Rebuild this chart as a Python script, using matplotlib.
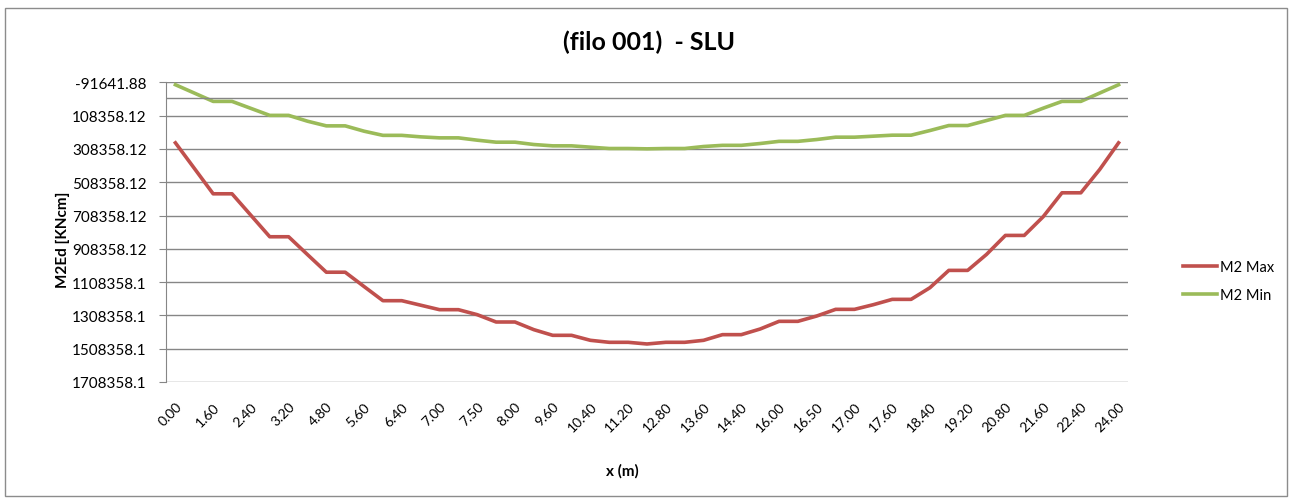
import matplotlib
matplotlib.use('Agg')
import matplotlib.pyplot as plt
from matplotlib.patches import Rectangle
import numpy as np

plt.rcParams['font.family'] = ['Lato', 'DejaVu Sans']

# abscissae (m) - one category per computed section, labels shown every other one
x_labels = ['0.00', '0.80', '1.60', '1.60', '2.40', '3.20', '3.20', '4.00', '4.80', '4.80',
            '5.60', '6.40', '6.40', '6.70', '7.00', '7.00', '7.50', '8.00', '8.00', '8.80',
            '9.60', '9.60', '10.40', '11.20', '11.20', '12.00', '12.80', '12.80', '13.60',
            '14.40', '14.40', '15.20', '16.00', '16.00', '16.50', '17.00', '17.00', '17.30',
            '17.60', '17.60', '18.40', '19.20', '19.20', '20.00', '20.80', '20.80', '21.60',
            '22.40', '22.40', '23.20', '24.00']

m2_max = [272000, 425000, 578000, 578000, 707000, 836000, 836000, 943000, 1049000, 1049000,
          1135000, 1220000, 1220000, 1247000, 1274000, 1274000, 1304000, 1348000, 1348000,
          1394000, 1428000, 1428000, 1458000, 1470000, 1470000, 1480000, 1470000, 1470000,
          1458000, 1424000, 1424000, 1390000, 1344000, 1344000, 1312000, 1272000, 1272000,
          1244000, 1212000, 1212000, 1142000, 1038000, 1038000, 942000, 828000, 828000,
          716000, 572000, 572000, 432000, 272000]

m2_min = [-77000, -27000, 23000, 23000, 65000, 107000, 107000, 142000, 170000, 170000,
          202000, 227000, 227000, 236000, 242000, 242000, 256000, 268000, 268000, 282000,
          290000, 290000, 298000, 306000, 306000, 308000, 306000, 306000, 294000, 287000,
          287000, 276000, 263000, 263000, 252000, 238000, 238000, 232000, 226000, 226000,
          198000, 168000, 168000, 138000, 107000, 107000, 64000, 23000, 23000, -27000, -77000]

y_ticks = [-91641.88, 108358.12, 308358.12, 508358.12, 708358.12, 908358.12,
           1108358.12, 1308358.12, 1508358.12, 1708358.12]
y_ticklabels = ['-91641.88', '108358.12', '308358.12', '508358.12', '708358.12',
                '908358.12', '1108358.1', '1308358.1', '1508358.1', '1708358.1']

fig = plt.figure(figsize=(12.89, 5.02), dpi=100)
W, H = 1289, 502
ax = fig.add_axes([166 / W, 1 - 383 / H, (1128 - 166) / W, (383 - 83.3) / H])

pos = np.arange(len(x_labels))
ax.plot(pos, m2_max, color='#C0504D', lw=2.6, label='M2 Max', solid_joinstyle='round')
ax.plot(pos, m2_min, color='#9BBB59', lw=2.6, label='M2 Min', solid_joinstyle='round')

ax.set_xlim(-0.5, len(x_labels) - 0.5)
ax.set_ylim(y_ticks[-1], y_ticks[0])
ax.set_yticks(y_ticks)
ax.set_yticklabels(y_ticklabels, fontsize=11)
ax.set_xticks(pos[::2])
ax.set_xticklabels(x_labels[::2], rotation=45, ha='right', va='top',
                   rotation_mode='anchor', fontsize=10)
ax.tick_params(axis='x', length=0, pad=13)
ax.tick_params(axis='y', length=5, color='#868686', pad=9)

ax.grid(axis='y', color='#868686', lw=1)
ax.axhline(0, color='#868686', lw=1)
ax.set_axisbelow(True)
for s in ['top', 'right', 'bottom']:
    ax.spines[s].set_visible(False)
ax.spines['left'].set_color('#868686')

fig.text(649 / W, 1 - 42 / H, '(filo 001)  - SLU', fontsize=18, fontweight='bold',
         ha='center', va='center')
fig.text(63 / W, 1 - 240 / H, 'M2Ed [KNcm]', fontsize=11, fontweight='bold',
         rotation=90, ha='center', va='center')
fig.text(622 / W, 1 - 471 / H, 'x (m)', fontsize=11, fontweight='bold',
         ha='center', va='center')

fig.legend(loc='center left', bbox_to_anchor=(1170 / W, 1 - 282 / H), frameon=False,
           fontsize=10.5, handlelength=2.3, labelspacing=1.0, handletextpad=0.2)

fig.patches.append(Rectangle((5 / W, 1 - 497 / H), 1282 / W, 488 / H, transform=fig.transFigure,
                             fill=False, edgecolor='#8c8c8c', lw=1))

fig.savefig('out.png', dpi=100)
